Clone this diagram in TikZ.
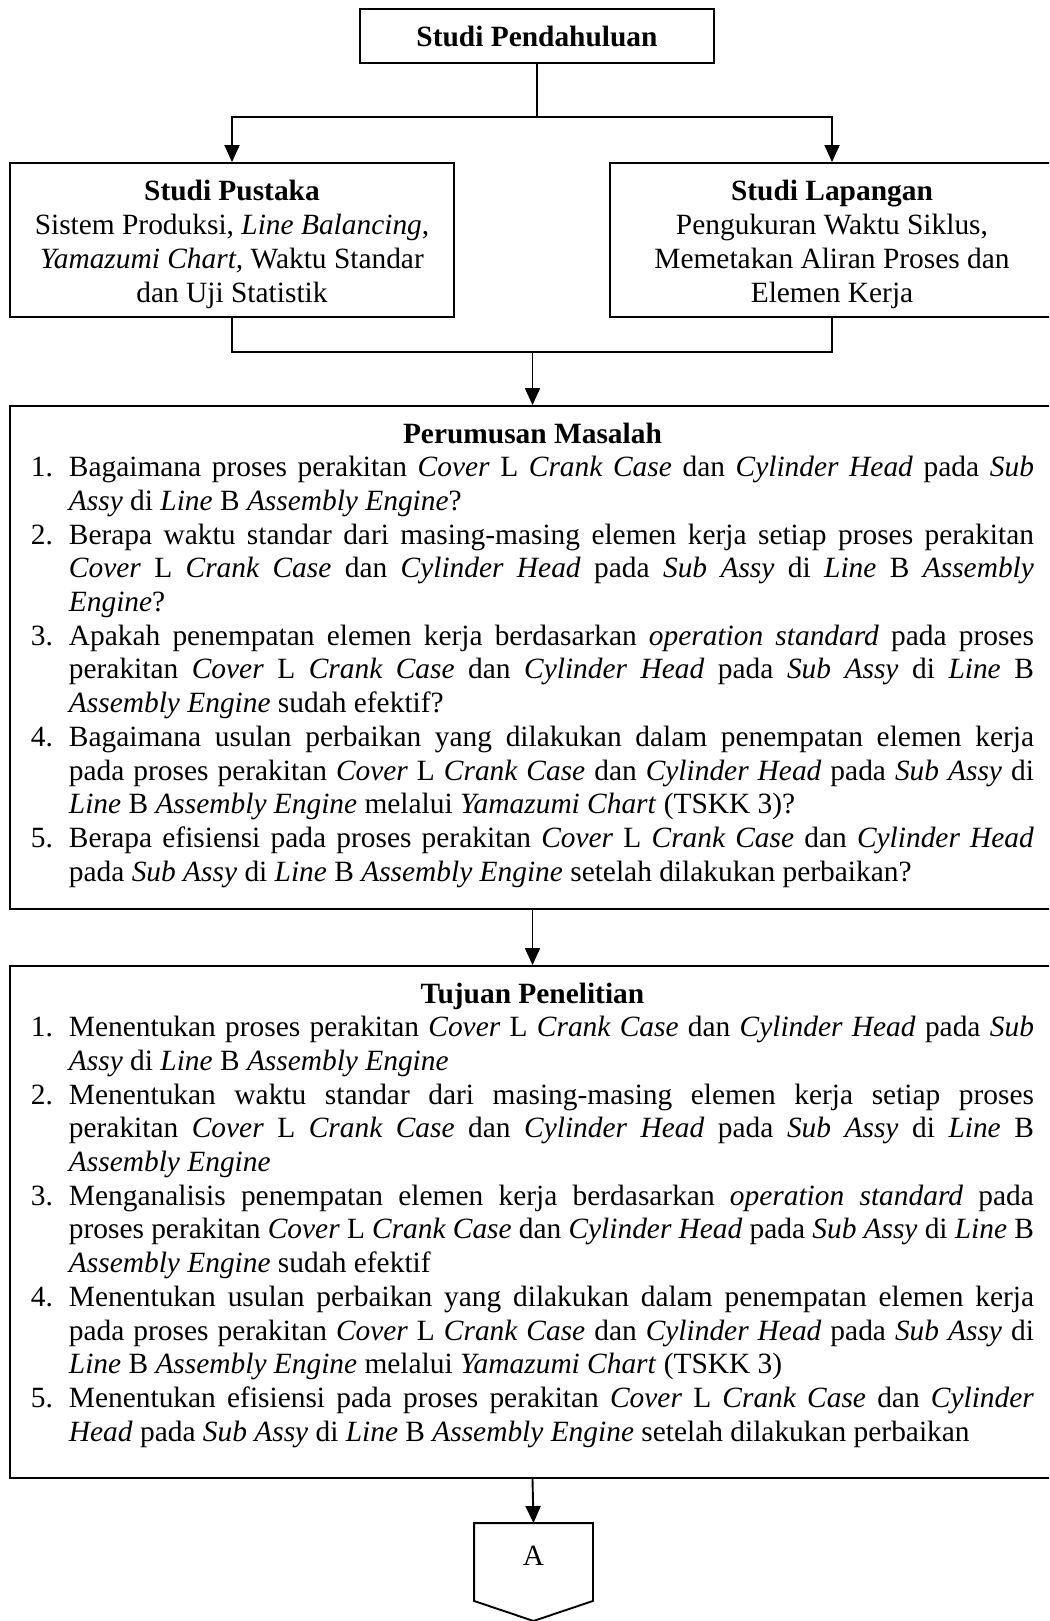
\documentclass[tikz,border=0pt]{standalone}
\usepackage{fontspec}
\setmainfont{Liberation Serif}
\usetikzlibrary{arrows.meta,calc}
\newcommand\numitem[2]{\par\hangindent=19pt\hangafter=1\noindent\makebox[19pt][l]{#1}#2\par}
\begin{document}
\begin{tikzpicture}[x=0.5pt,y=-0.5pt,line width=0.95pt,
  every node/.style={font=\fontsize{14.7pt}{16.85pt}\selectfont},
  box/.style={draw,rectangle,inner sep=0pt},
  txt/.style={inner sep=0pt},
  arr/.style={-{Triangle[length=8.5pt,width=7.5pt]}}]
\useasboundingbox (0,0) rectangle (1049,1621);
\clip (0,0) rectangle (1049,1621);
\hyphenpenalty=10000 \exhyphenpenalty=10000 \tolerance=9999 \pretolerance=-1

% boxes
\node[box,minimum width=177pt,minimum height=27pt] (T) at (537,36) {\textbf{Studi Pendahuluan}};
\node[box,minimum width=222pt,minimum height=77pt] (L) at (232,240) {};
\node[box,minimum width=222pt,minimum height=77pt] (R) at (832,240) {};
\node[box,minimum width=522.5pt,minimum height=251.5pt] (P) at (532.5,657.5) {};
\node[box,minimum width=522.5pt,minimum height=256pt] (U) at (532.5,1222) {};
\node[rectangle,inner sep=0pt,minimum width=58.5pt,minimum height=38pt] (A) at (533.5,1562) {\raisebox{3pt}[\height][0pt]{A}};
\draw (A.north west) -- (A.north east) -- (A.south east) -- ($(A.south)+(0,20)$) -- (A.south west) -- cycle;

% texts
\node[txt,anchor=base] (Ltext) at (232,201) {\begin{minipage}[t]{220pt}\centering\hyphenpenalty=10000
\textbf{Studi Pustaka}\\
Sistem Produksi, \textit{Line Balancing},\\
\textit{Yamazumi Chart,} Waktu Standar\\
dan Uji Statistik
\end{minipage}};
\node[txt,anchor=base] (Rtext) at (832,201) {\begin{minipage}[t]{220pt}\centering\hyphenpenalty=10000
\textbf{Studi Lapangan}\\
Pengukuran Waktu Siklus,\\
Memetakan Aliran Proses dan\\
Elemen Kerja
\end{minipage}};

\node[txt,anchor=base west] (Ptext) at (30,443) {\begin{minipage}[t]{501.5pt}\hyphenpenalty=10000 \exhyphenpenalty=10000 \tolerance=9999 \pretolerance=-1
{\centering\textbf{Perumusan Masalah}\par}
\numitem{1.}{Bagaimana proses perakitan \textit{Cover} L \textit{Crank Case} dan \textit{Cylinder Head} pada \textit{Sub}\linebreak \textit{Assy} di \textit{Line} B \textit{Assembly Engine}?}
\numitem{2.}{Berapa waktu standar dari masing-masing elemen kerja setiap proses perakitan\linebreak \textit{Cover} L \textit{Crank Case} dan \textit{Cylinder Head} pada \textit{Sub Assy} di \textit{Line} B \textit{Assembly}\linebreak \textit{Engine}?}
\numitem{3.}{Apakah penempatan elemen kerja berdasarkan \textit{operation standard} pada proses\linebreak perakitan \textit{Cover} L \textit{Crank Case} dan \textit{Cylinder Head} pada \textit{Sub Assy} di \textit{Line} B\linebreak \textit{Assembly Engine} sudah efektif?}
\numitem{4.}{Bagaimana usulan perbaikan yang dilakukan dalam penempatan elemen kerja\linebreak pada proses perakitan \textit{Cover} L \textit{Crank Case} dan \textit{Cylinder Head} pada \textit{Sub Assy} di\linebreak \textit{Line} B \textit{Assembly Engine} melalui \textit{Yamazumi Chart} (TSKK 3)?}
\numitem{5.}{Berapa efisiensi pada proses perakitan \textit{Cover} L \textit{Crank Case} dan \textit{Cylinder Head}\linebreak pada \textit{Sub Assy} di \textit{Line} B \textit{Assembly Engine} setelah dilakukan perbaikan?}
\end{minipage}};

\node[txt,anchor=base west] (Utext) at (30,1003) {\begin{minipage}[t]{501.5pt}\hyphenpenalty=10000 \exhyphenpenalty=10000 \tolerance=9999 \pretolerance=-1
{\centering\textbf{Tujuan Penelitian}\par}
\numitem{1.}{Menentukan proses perakitan \textit{Cover} L \textit{Crank Case} dan \textit{Cylinder Head} pada \textit{Sub}\linebreak \textit{Assy} di \textit{Line} B \textit{Assembly Engine}}
\numitem{2.}{Menentukan waktu standar dari masing-masing elemen kerja setiap proses\linebreak perakitan \textit{Cover} L \textit{Crank Case} dan \textit{Cylinder Head} pada \textit{Sub Assy} di \textit{Line} B\linebreak \textit{Assembly Engine}}
\numitem{3.}{Menganalisis penempatan elemen kerja berdasarkan \textit{operation standard} pada\linebreak proses perakitan \textit{Cover} L \textit{Crank Case} dan \textit{Cylinder Head} pada \textit{Sub Assy} di \textit{Line} B\linebreak \textit{Assembly Engine} sudah efektif}
\numitem{4.}{Menentukan usulan perbaikan yang dilakukan dalam penempatan elemen kerja\linebreak pada proses perakitan \textit{Cover} L \textit{Crank Case} dan \textit{Cylinder Head} pada \textit{Sub Assy} di\linebreak \textit{Line} B \textit{Assembly Engine} melalui \textit{Yamazumi Chart} (TSKK 3)}
\numitem{5.}{Menentukan efisiensi pada proses perakitan \textit{Cover} L \textit{Crank Case} dan \textit{Cylinder}\linebreak \textit{Head} pada \textit{Sub Assy} di \textit{Line} B \textit{Assembly Engine} setelah dilakukan perbaikan}
\end{minipage}};

% connectors
\coordinate (j1) at (T.south |- 0,117);
\draw (T.south) -- (j1);
\draw[arr] (j1) -| (L.north);
\draw[arr] (j1) -| (R.north);
\coordinate (j2) at (P.north |- 0,352);
\draw (L.south) |- (j2) -| (R.south);
\draw[arr] (j2) -- (P.north);
\draw[arr] (P.south) -- (U.north);
\draw[arr] (U.south) -- (A.north);
\end{tikzpicture}
\end{document}
